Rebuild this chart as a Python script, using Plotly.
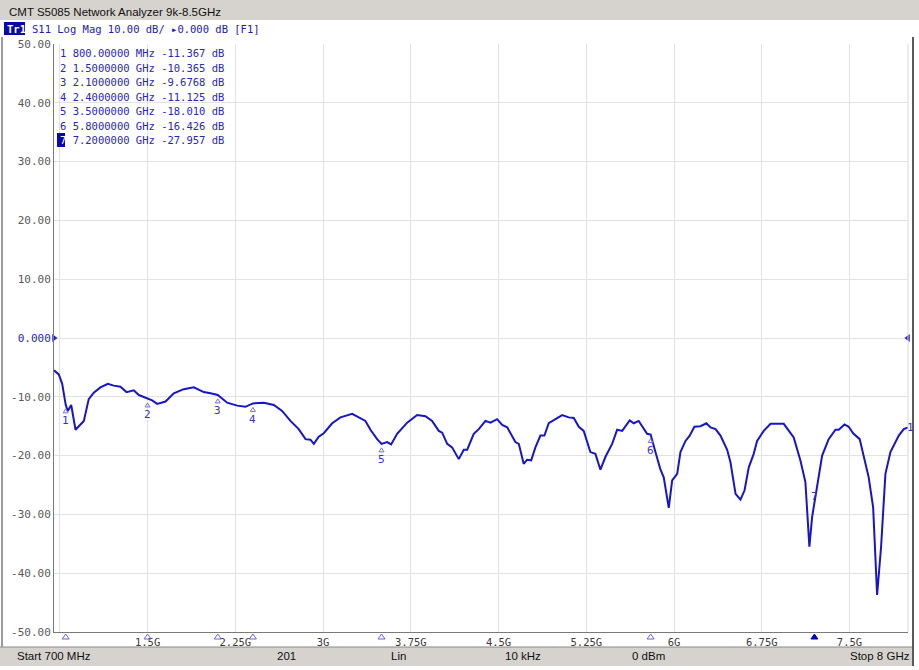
import plotly.graph_objects as go

# S11 trace (GHz, dB)
freq_ghz = [
    0.700, 0.741, 0.770, 0.800, 0.818, 0.847, 0.884, 0.955, 0.997, 1.040,
    1.097, 1.160, 1.211, 1.268, 1.320, 1.382, 1.425, 1.500, 1.539, 1.582,
    1.653, 1.724, 1.809, 1.895, 1.980, 2.038, 2.100, 2.180, 2.266, 2.337,
    2.400, 2.493, 2.579, 2.650, 2.721, 2.792, 2.850, 2.892, 2.921, 2.963,
    3.006, 3.078, 3.149, 3.249, 3.305, 3.362, 3.405, 3.462, 3.500, 3.548,
    3.582, 3.633, 3.719, 3.762, 3.804, 3.875, 3.932, 3.989, 4.018, 4.061,
    4.103, 4.160, 4.203, 4.232, 4.288, 4.331, 4.388, 4.431, 4.488, 4.531,
    4.574, 4.644, 4.673, 4.715, 4.744, 4.779, 4.815, 4.858, 4.892, 4.929,
    4.986, 5.044, 5.100, 5.143, 5.186, 5.228, 5.285, 5.328, 5.371, 5.414,
    5.471, 5.514, 5.557, 5.621, 5.656, 5.698, 5.770, 5.800, 5.841, 5.883,
    5.912, 5.955, 5.984, 6.027, 6.055, 6.098, 6.134, 6.174, 6.226, 6.277,
    6.312, 6.355, 6.397, 6.454, 6.482, 6.526, 6.568, 6.603, 6.639, 6.681,
    6.710, 6.767, 6.825, 6.938, 7.023, 7.080, 7.123, 7.138, 7.157, 7.180,
    7.200, 7.266, 7.322, 7.380, 7.408, 7.457, 7.493, 7.531, 7.587, 7.621,
    7.664, 7.702, 7.736, 7.770, 7.807, 7.850, 7.921, 7.964, 8.000,
]
s11_db = [
    -5.5, -6.2, -7.8, -11.367, -12.4, -11.4, -15.6, -14.1, -10.4, -9.3,
    -8.4, -7.8, -8.1, -8.3, -9.2, -8.9, -9.7, -10.365, -10.6, -11.2,
    -10.8, -9.4, -8.7, -8.4, -9.2, -9.4, -9.677, -11.0, -11.5, -11.7,
    -11.125, -11.0, -11.4, -12.4, -14.1, -15.5, -17.2, -17.3, -18.0, -16.8,
    -16.2, -14.5, -13.5, -12.9, -13.5, -14.1, -15.6, -17.2, -18.01, -17.7,
    -18.1, -16.3, -14.4, -13.8, -13.1, -13.3, -14.1, -15.8, -16.1, -18.0,
    -18.6, -20.6, -19.0, -19.0, -16.3, -15.5, -14.1, -14.4, -13.8, -14.8,
    -15.2, -17.7, -18.0, -21.4, -20.7, -20.8, -18.6, -16.6, -16.6, -14.5,
    -13.8, -13.1, -13.5, -13.6, -15.1, -15.8, -19.4, -19.7, -22.4, -20.2,
    -18.0, -15.6, -15.8, -14.0, -14.5, -14.1, -16.3, -16.426, -19.4, -22.3,
    -23.7, -28.9, -24.2, -23.1, -19.4, -17.5, -16.6, -15.1, -15.0, -14.5,
    -15.2, -15.5, -16.6, -19.0, -21.1, -26.5, -27.5, -25.9, -22.0, -19.7,
    -17.5, -15.8, -14.6, -14.6, -16.9, -20.8, -24.5, -29.3, -35.5, -30.5,
    -27.957, -20.0, -17.2, -15.6, -15.6, -14.7, -15.1, -16.2, -17.2, -20.3,
    -23.7, -28.8, -43.7, -35.5, -23.1, -19.4, -16.6, -15.5, -15.2,
]

marker_ids = [1, 2, 3, 4, 5, 6, 7]
marker_freq_ghz = [0.8, 1.5, 2.1, 2.4, 3.5, 5.8, 7.2]
marker_db = [-11.367, -10.365, -9.6768, -11.125, -18.010, -16.426, -27.957]
active_marker = 7

x_tick_vals = [0.75, 1.5, 2.25, 3.0, 3.75, 4.5, 5.25, 6.0, 6.75, 7.5]
x_tick_text = ["", "1.5G", "2.25G", "3G", "3.75G", "4.5G", "5.25G", "6G", "6.75G", "7.5G"]
y_tick_vals = [-50, -40, -30, -20, -10, 0, 10, 20, 30, 40, 50]
y_tick_text = ["-50.00", "-40.00", "-30.00", "-20.00", "-10.00",
               "<span style='color:#2424c8'>0.000</span>",
               "10.00", "20.00", "30.00", "40.00", "50.00"]

status_items = ["Start 700 MHz", "201", "Lin", "10 kHz", "0 dBm", "Stop 8 GHz"]

W, H = 919, 670
ML, MR, MT, MB = 54, 11, 44, 38
PW = W - ML - MR
PH = H - MT - MB

MONO = "DejaVu Sans Mono"
SANS = "Liberation Sans"
BLUE = "#1616c8"
LABEL_BLUE = "#3434c4"


def px(x):
    return (x - ML) / PW


def py(y):
    return (H - MB - y) / PH


def fmt_freq(f_ghz):
    if f_ghz < 1:
        return "{:#.8g} MHz".format(f_ghz * 1000)
    return "{:#.8g} GHz".format(f_ghz)


def pixel_triangle(x, y, path, fill, line_color, yref="y"):
    # small glyph drawn in pixels around a point
    return dict(type="path", xref="x", yref=yref, xsizemode="pixel", ysizemode="pixel",
                xanchor=x, yanchor=y, path=path, fillcolor=fill,
                line=dict(color=line_color, width=1), layer="above")


fig = go.Figure()

fig.add_trace(go.Scatter(
    x=freq_ghz, y=s11_db, mode="lines",
    line=dict(color=BLUE, width=2), hoverinfo="skip"))

# reference level arrows
fig.add_trace(go.Scatter(
    x=[0.7, 8.0], y=[0, 0], mode="markers",
    marker=dict(symbol=["triangle-right", "triangle-left"], color="#2424c8", size=7),
    cliponaxis=False, hoverinfo="skip"))

annotations = []
shapes = []
bottom_flag = "M -3.5,-7 L 3.5,-7 L 0,-2 Z"
for m, f, v in zip(marker_ids, marker_freq_ghz, marker_db):
    if m == active_marker:
        annotations.append(dict(x=f, y=v, text=str(m), showarrow=False, yshift=6,
                                font=dict(family=MONO, size=11, color=LABEL_BLUE)))
        shapes.append(pixel_triangle(f, 0, bottom_flag, "#0000c0", "#0000c0", yref="paper"))
        continue
    shapes.append(pixel_triangle(f, v, "M -2.5,-8 L 2.5,-8 L 0,-4 Z", "rgba(0,0,0,0)", "#7070d8"))
    shapes.append(pixel_triangle(f, 0, bottom_flag, "rgba(0,0,0,0)", "#6464e0", yref="paper"))
    annotations.append(dict(x=f, y=v, text=str(m), showarrow=False, yshift=-16,
                            font=dict(family=MONO, size=11, color=LABEL_BLUE)))

# trace number at the right end
annotations.append(dict(x=freq_ghz[-1], y=s11_db[-1], text="1", showarrow=False,
                        xanchor="left", xshift=-3,
                        font=dict(family=MONO, size=11, color=LABEL_BLUE)))

# marker table
row_y = [53, 68, 82, 97, 111, 126, 140]
for m, f, v, yy in zip(marker_ids, marker_freq_ghz, marker_db, row_y):
    num = str(m)
    if m == active_marker:
        num = "<span style='color:white'>{}</span>".format(m)
    annotations.append(dict(
        xref="paper", yref="paper", x=px(58), y=py(yy), xanchor="left", yanchor="middle",
        text="{} {} {:#.5g} dB".format(num, fmt_freq(f), v), showarrow=False,
        font=dict(family=MONO, size=10.5, color="#2828b4")))

# header lines
annotations.append(dict(
    xref="paper", yref="paper", x=px(7), y=py(12), xanchor="left", yanchor="middle",
    text="CMT S5085 Network Analyzer 9k-8.5GHz", showarrow=False,
    font=dict(family=SANS, size=11.5, color="#101010")))
annotations.append(dict(
    xref="paper", yref="paper", x=px(5), y=py(29), xanchor="left", yanchor="middle",
    text="<b>Tr1</b>", showarrow=False,
    font=dict(family=MONO, size=10.5, color="white")))
annotations.append(dict(
    xref="paper", yref="paper", x=px(30), y=py(29), xanchor="left", yanchor="middle",
    text="S11 Log Mag 10.00 dB/ ▸0.000 dB [F1]", showarrow=False,
    font=dict(family=MONO, size=10.5, color="#2020b0")))

# status bar
status_x = [15, 286, 398, 523, 648, 912]
status_anchor = ["left", "center", "center", "center", "center", "right"]
for txt, xx, anc in zip(status_items, status_x, status_anchor):
    annotations.append(dict(
        xref="paper", yref="paper", x=px(xx), y=py(656), xanchor=anc, yanchor="middle",
        text=txt, showarrow=False, font=dict(family=SANS, size=11.5, color="#101010")))

shapes += [
    # title bar
    dict(type="rect", xref="paper", yref="paper", x0=px(0), x1=px(W), y0=py(0), y1=py(20),
         fillcolor="#d6d3ce", line=dict(width=0), layer="below"),
    # Tr1 tag
    dict(type="rect", xref="paper", yref="paper", x0=px(4), x1=px(25), y0=py(22), y1=py(35),
         fillcolor="#0a0aa8", line=dict(width=0), layer="above"),
    # active marker number highlight
    dict(type="rect", xref="paper", yref="paper", x0=px(57), x1=px(65), y0=py(133), y1=py(147),
         fillcolor="#0a0aa8", line=dict(width=0), layer="above"),
    # status bar
    dict(type="rect", xref="paper", yref="paper", x0=px(0), x1=px(914), y0=py(647), y1=py(666),
         fillcolor="#d6d3ce", line=dict(width=0), layer="below"),
    dict(type="line", xref="paper", yref="paper", x0=px(0), x1=px(914), y0=py(647), y1=py(647),
         line=dict(color="#8a8a8a", width=1)),
    # window frame
    dict(type="line", xref="paper", yref="paper", x0=px(2), x1=px(2), y0=py(37), y1=py(647),
         line=dict(color="#9a9a9a", width=2)),
    dict(type="line", xref="paper", yref="paper", x0=px(913), x1=px(913), y0=py(37), y1=py(666),
         line=dict(color="#5a5a5a", width=2)),
    # right plot border
    dict(type="line", xref="paper", yref="paper", x0=1, x1=1, y0=0, y1=1,
         line=dict(color="#d8d8d8", width=1)),
]

fig.update_layout(
    width=W, height=H,
    margin=dict(l=ML, r=MR, t=MT, b=MB),
    paper_bgcolor="white", plot_bgcolor="white",
    showlegend=False,
    xaxis=dict(range=[0.7, 8.0], tickvals=x_tick_vals, ticktext=x_tick_text,
               showgrid=True, gridcolor="#e2e2e2", gridwidth=1,
               showline=True, linecolor="#7a7a7a", linewidth=1,
               ticks="", zeroline=False, automargin=False,
               tickfont=dict(family=MONO, size=10.5, color="#3a3a3a")),
    yaxis=dict(range=[-50, 50], tickvals=y_tick_vals, ticktext=y_tick_text,
               showgrid=True, gridcolor="#e2e2e2", gridwidth=1,
               showline=True, linecolor="#7a7a7a", linewidth=1,
               ticks="", zeroline=False, automargin=False,
               tickfont=dict(family=MONO, size=11, color="#5a5a5a")),
    annotations=annotations,
    shapes=shapes,
)

# the default page body has an 8px margin; drop it so the figure fills the window
fig.write_html("out.html", config={"displayModeBar": False},
               post_script="document.body.style.margin = '0px';")
